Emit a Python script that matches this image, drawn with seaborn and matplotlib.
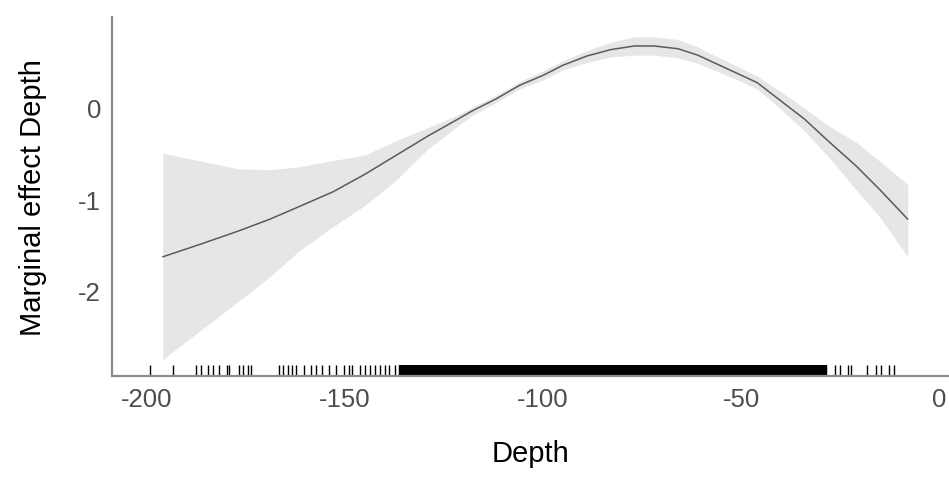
"""
Marginal effect of Depth with confidence band and rug of observed depths.
"""
import matplotlib
matplotlib.use("Agg")
import matplotlib.pyplot as plt
import numpy as np
import pandas as pd
import seaborn as sns

# smoothed effect curve
depth_grid = [-196, -187, -177, -169, -162, -153, -145, -137, -129, -122,
              -118, -112, -106, -100, -95, -89, -83, -77, -72, -66,
              -61, -57, -51, -46, -40, -34, -28, -21, -15, -8]
effect = [-1.63, -1.50, -1.35, -1.22, -1.09, -0.92, -0.73, -0.52, -0.31, -0.14,
          -0.04, 0.09, 0.24, 0.35, 0.46, 0.56, 0.63, 0.67, 0.67, 0.64,
          0.57, 0.49, 0.37, 0.27, 0.07, -0.13, -0.37, -0.64, -0.90, -1.22]
ci_upper = [-0.50, -0.58, -0.67, -0.68, -0.65, -0.58, -0.52, -0.36, -0.22, -0.09,
            0.00, 0.13, 0.28, 0.40, 0.51, 0.62, 0.71, 0.77, 0.77, 0.74,
            0.66, 0.57, 0.45, 0.34, 0.17, -0.01, -0.20, -0.38, -0.59, -0.84]
ci_lower = [-2.75, -2.45, -2.12, -1.85, -1.58, -1.30, -1.07, -0.79, -0.45, -0.22,
            -0.09, 0.05, 0.20, 0.30, 0.41, 0.49, 0.55, 0.57, 0.57, 0.54,
            0.48, 0.41, 0.30, 0.20, -0.02, -0.26, -0.54, -0.90, -1.20, -1.63]

# observed depths (rug): sparse tails and the dense middle
rug_sparse = [-199.2, -193.4, -187.5, -186.3, -184.6, -183.4, -181.7, -179.9,
              -179.2, -176.7, -175.8, -174.6, -173.8, -166.6, -165.6, -164.5,
              -163.3, -162.4, -160.4, -158.7, -157.4, -155.8, -154.1, -152.4,
              -150.3, -149.1, -148.2, -146.1, -144.9, -143.6, -142.4, -141.1,
              -139.9, -139.0, -137.3,
              -26.4, -25.2, -23.2, -22.3, -18.2, -16.1, -14.8, -12.8, -11.5]
rug_dense = [-136, -135, -134, -133, -132, -131, -130, -129, -128, -127,
             -126, -125, -124, -123, -122, -121, -120, -119, -118, -117,
             -116, -115, -114, -113, -112, -111, -110, -109, -108, -107,
             -106, -105, -104, -103, -102, -101, -100, -99, -98, -97,
             -96, -95, -94, -93, -92, -91, -90, -89, -88, -87,
             -86, -85, -84, -83, -82, -81, -80, -79, -78, -77,
             -76, -75, -74, -73, -72, -71, -70, -69, -68, -67,
             -66, -65, -64, -63, -62, -61, -60, -59, -58, -57,
             -56, -55, -54, -53, -52, -51, -50, -49, -48, -47,
             -46, -45, -44, -43, -42, -41, -40, -39, -38, -37,
             -36, -35, -34, -33, -32, -31, -30, -29]

x_ticks = [-200, -150, -100, -50, 0]
y_ticks = [0, -1, -2]

sns.set_style("white")
plt.rcParams["font.family"] = ["Liberation Sans", "DejaVu Sans"]

curve = pd.DataFrame({"Depth": depth_grid, "effect": effect,
                      "lo": ci_lower, "hi": ci_upper})

fig = plt.figure(figsize=(9.49, 4.85), dpi=100)
ax = fig.add_axes([112 / 949, 108 / 485, 837 / 949, 359 / 485])

ax.fill_between(curve["Depth"], curve["lo"], curve["hi"], color="#e6e6e6", lw=0)
sns.lineplot(data=curve, x="Depth", y="effect", color="#5a5a5a", lw=1.1, ax=ax)
sns.rugplot(x=rug_sparse, height=0.032, color="black", linewidth=1.0, ax=ax)
sns.rugplot(x=rug_dense, height=0.032, color="black", linewidth=3.2, ax=ax)

ax.set_xlim(-208.8, 2.4)
ax.set_ylim(-2.93, 0.986)
ax.set_xticks(x_ticks)
ax.set_xticklabels([str(t) for t in x_ticks])
ax.set_yticks(y_ticks)
ax.set_yticklabels([str(t) for t in y_ticks])

for side in ["top", "right"]:
    ax.spines[side].set_visible(False)
for side in ["left", "bottom"]:
    ax.spines[side].set_color("#8c8c8c")
    ax.spines[side].set_linewidth(1.6)

ax.tick_params(axis="both", length=4, width=1, color="#8c8c8c",
               labelsize=18.5, labelcolor="#4d4d4d", pad=4, direction="out")
ax.set_xlabel("Depth", fontsize=21, color="black", labelpad=20)
ax.set_ylabel("Marginal effect Depth", fontsize=21, color="black", labelpad=22)
ax.grid(False)

fig.savefig("out.png", dpi=100)
plt.close(fig)
